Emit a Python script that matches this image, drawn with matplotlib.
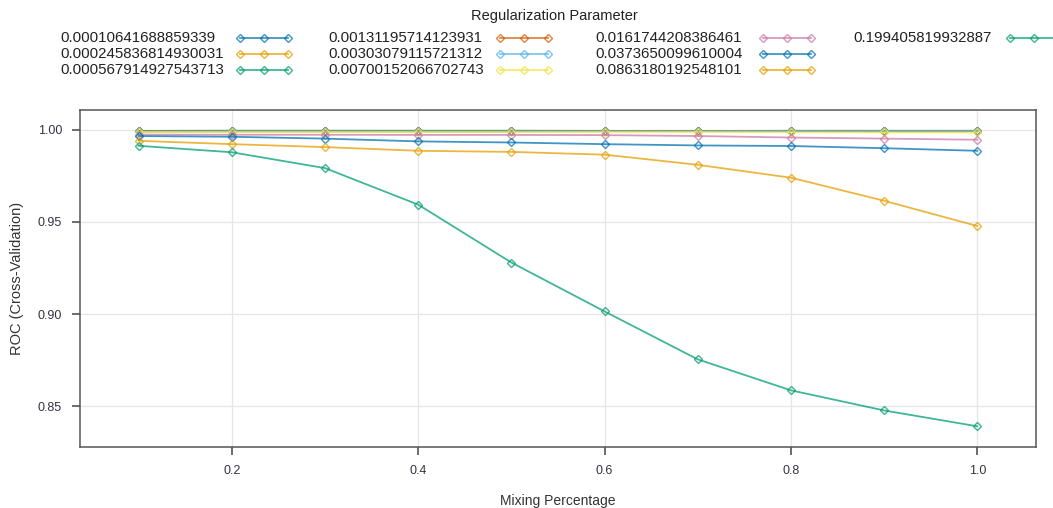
import numpy as np
import matplotlib
matplotlib.use('Agg')
from matplotlib import pyplot as plt
from matplotlib.lines import Line2D

plt.rcParams['font.family'] = ['Liberation Sans', 'DejaVu Sans']

# mixing percentage (alpha) on the x axis
mixing = [0.1, 0.2, 0.3, 0.4, 0.5, 0.6, 0.7, 0.8, 0.9, 1.0]

# regularization parameter (lambda) labels, one line each
lambdas = ['0.00010641688859339', '0.000245836814930031', '0.000567914927543713',
           '0.00131195714123931', '0.00303079115721312', '0.00700152066702743',
           '0.0161744208386461', '0.0373650099610004', '0.0863180192548101',
           '0.199405819932887']

# ROC (cross-validation)
roc_1 = [0.9992, 0.9993, 0.9993, 0.9993, 0.9993, 0.9993, 0.9993, 0.9993, 0.9993, 0.9993]
roc_2 = [0.9992, 0.9993, 0.9993, 0.9993, 0.9993, 0.9993, 0.9993, 0.9993, 0.9993, 0.9993]
roc_3 = [0.9994, 0.9995, 0.9995, 0.9995, 0.9995, 0.9994, 0.9993, 0.9993, 0.9993, 0.9993]
roc_4 = [0.9993, 0.9992, 0.9992, 0.9992, 0.9992, 0.9994, 0.9994, 0.9994, 0.9992, 0.9992]
roc_5 = [0.9991, 0.9992, 0.9992, 0.9992, 0.9992, 0.9993, 0.9993, 0.9995, 0.9995, 0.9995]
roc_6 = [0.9988, 0.9988, 0.9988, 0.9988, 0.9988, 0.9988, 0.9988, 0.9987, 0.9986, 0.9986]
roc_7 = [0.9974, 0.9973, 0.9973, 0.9972, 0.9972, 0.9971, 0.9966, 0.9958, 0.9952, 0.9946]
roc_8 = [0.9966, 0.9962, 0.9952, 0.9937, 0.9931, 0.9922, 0.9915, 0.9912, 0.9900, 0.9886]
roc_9 = [0.9940, 0.9922, 0.9906, 0.9886, 0.9880, 0.9865, 0.9810, 0.9740, 0.9615, 0.9478]
roc_10 = [0.9913, 0.9878, 0.9792, 0.9594, 0.9280, 0.9015, 0.8755, 0.8587, 0.8478, 0.8392]

all_roc = [roc_1, roc_2, roc_3, roc_4, roc_5, roc_6, roc_7, roc_8, roc_9, roc_10]

# lattice-like superpose palette (repeats after 7)
palette = ['#0072B2', '#E69F00', '#009E73', '#D55E00', '#56B4E9', '#F0E442', '#CC79A7']
colors = [palette[i % 7] for i in range(len(lambdas))]

fig = plt.figure(figsize=(10.53, 5.08), dpi=100)
W, H = 1053, 508
ax = fig.add_axes([80 / W, 1 - 447 / H, (1036 - 80) / W, (447 - 110) / H])

for roc, col in zip(all_roc, colors):
    ax.plot(mixing, roc, color=col, alpha=0.75, lw=1.3, marker='D', ms=4.2,
            mfc='none', mew=1.0)

# 7% padding like lattice
xs = np.array(mixing)
ys = np.concatenate(all_roc)
xpad = 0.07 * (xs.max() - xs.min())
ypad = 0.07 * (ys.max() - ys.min())
ax.set_xlim(xs.min() - xpad, xs.max() + xpad)
ax.set_ylim(ys.min() - ypad, ys.max() + ypad)

ax.set_xticks([0.2, 0.4, 0.6, 0.8, 1.0])
ax.set_xticklabels(['0.2', '0.4', '0.6', '0.8', '1.0'])
ax.set_yticks([0.85, 0.90, 0.95, 1.00])
ax.set_yticklabels(['0.85', '0.90', '0.95', '1.00'])
ax.grid(True, color='#e6e6e6', lw=0.9)
ax.set_axisbelow(True)
ax.tick_params(direction='out', length=6, width=1.1, color='#444444',
               labelsize=9, labelcolor='#333344', pad=7)
for s in ax.spines.values():
    s.set_color('#555555')
    s.set_linewidth(1.1)

ax.set_xlabel('Mixing Percentage', fontsize=10, color='#333333', labelpad=12)
ax.set_ylabel('ROC (Cross-Validation)', fontsize=10.5, color='#333333', labelpad=10)

# legend drawn by hand: text left of a line with three diamonds
fig.text(554 / W, 1 - 16 / H, 'Regularization Parameter', ha='center', va='center',
         fontsize=10.5, color='#222222')
col_text_x = [60, 328, 595, 853]
col_line_x = [240, 500, 763, 1010]
row_y = [38, 54, 70]
for i, (lab, col) in enumerate(zip(lambdas, colors)):
    c, r = divmod(i, 3)
    y = 1 - row_y[r] / H
    fig.text(col_text_x[c] / W, y, lab, ha='left', va='center', fontsize=10.8,
             color='#222222')
    x0 = col_line_x[c]
    fig.add_artist(Line2D([x0 / W, (x0 + 24) / W, (x0 + 48) / W], [y, y, y],
                          color=col, alpha=0.75, lw=1.3, marker='D', ms=4.2,
                          mfc='none', mew=1.0, transform=fig.transFigure))

fig.savefig('out.png', dpi=100)
